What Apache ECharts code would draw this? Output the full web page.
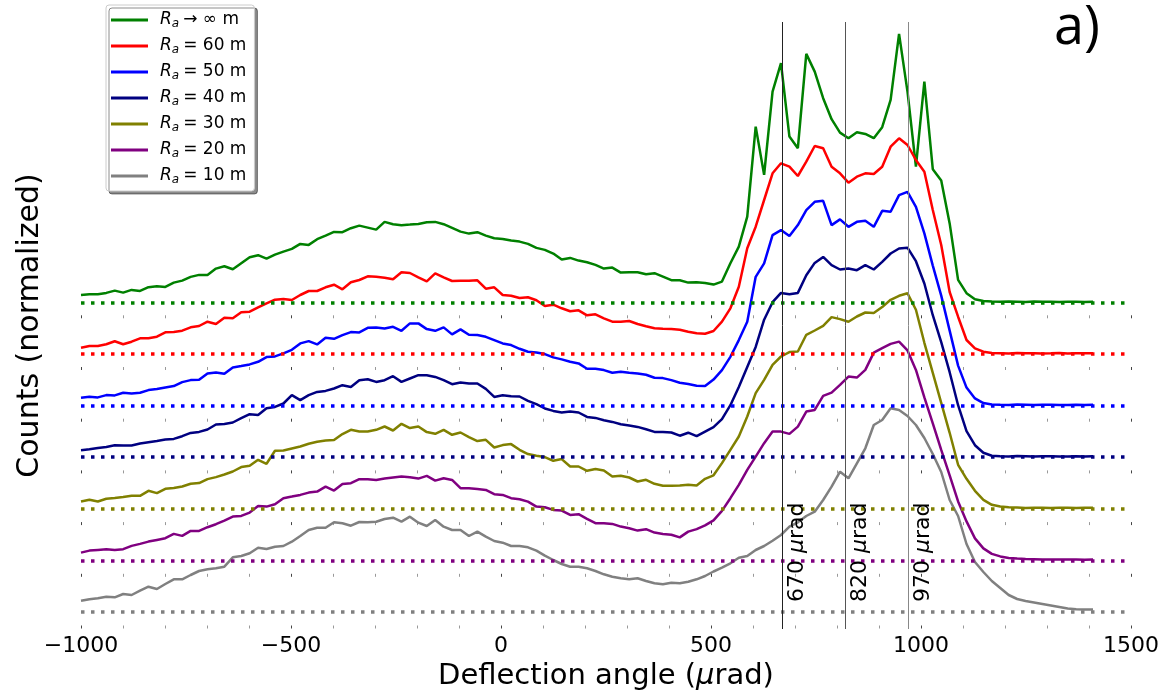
<!DOCTYPE html>
<html>
<head>
<meta charset="utf-8">
<script src="https://cdn.jsdelivr.net/npm/echarts@6/dist/echarts.min.js"></script>
<style>
html, body { margin: 0; padding: 0; background: #fff; }
#chart { width: 1169px; height: 698px; }
</style>
</head>
<body>
<div id="chart"></div>
<script>
// deflection angle bins (urad), 121 bins from -1000
const angleStart = -1000;
const angleStep = 20.08;

// legend names (R_a in m) and colours, top curve first
const radii = ['∞', '60', '50', '40', '30', '20', '10'];
const colors = ['#008000', '#ff0000', '#0000ff', '#000080', '#808000', '#800080', '#808080'];

// reference angles (urad)
const markers = [670, 820, 970];
const markerColors = ['#222222', '#555555', '#888888'];

// vertical shift between the stacked curves (same units as counts)
const OFFSET_STEP = 51.6;

// counts above each curve's own baseline
const countsInf = [
  7.5, 8.2, 8.2, 9.5, 11.8, 9.8, 12.5, 11.5, 15.2, 16.2, 15.5, 19.8, 21.8, 25.5, 27.5, 27.5, 33.8, 36.2, 33.2, 39.2,
  45.2, 47.2, 43.8, 47.8, 50.8, 53.5, 58.5, 57.5, 63.2, 66.8, 70.5, 70.2, 74.2, 76.8, 74.8, 72.8, 80.5, 78.2,
  77.2, 77.8, 78.5, 80.2, 80.5, 78.2, 74.5, 70.8, 68.8, 70.2, 66.8, 64.2, 63.5,
  61.8, 60.8, 58.5, 54.5, 52.5, 48.8, 42.8, 44.5, 41.8, 40.2, 37.5, 33.8, 34.8, 29.8, 30.2, 30.2, 28.2, 29.2, 25.8,
  22.2, 22.2, 19.8, 20.2, 19.5, 17.8,
  20.8, 39.2, 55.8, 85.8, 175.8, 127.5, 210.8, 239.2, 165.8, 154.2, 248.5, 230.8, 204.2, 183.2, 169.8, 164.2,
  170.2, 168.5, 164.2, 175.2, 202.5, 268.5, 210.8, 135.8, 220.8, 133.2, 121.8, 79, 22.5, 9.2, 3.2, 1.5, 0.8,
  0.6, 0.9, 0.7, 0.5, 0.8, 0.6, 0.7, 0.5, 0.6, 0.7, 0.5, 0.6
];
const counts60 = [
  6.3, 8, 8, 9.7, 12.7, 9.7, 12.3, 15.7, 15.7, 17.3, 21.7, 22, 23.3, 26.7, 28, 32.3, 30, 36.3, 35.7, 41.7,
  42.3, 46.7, 50.7, 54.3, 55, 54, 59, 63, 63, 66.7, 69.3, 64.7, 71.7, 74, 77.7, 77.3, 76.3, 74.7,
  81.7, 81, 76.7, 72.7, 80.7, 76.7, 73, 73.3, 73.3, 73.7, 65.3, 66.7, 59,
  58.3, 56, 56.7, 53.7, 48, 49.3, 45.7, 42.7, 43.7, 38.7, 39.7, 35.7, 32.3, 32.3, 33, 30, 27.7, 25.7, 25.3,
  25, 24.3, 22.3, 20.7, 20.3, 23,
  32.3, 45.7, 67.3, 105.7, 127.3, 154, 180.7, 190.7, 187.3, 178, 192.3, 208, 205.7, 187.3, 180.7, 171.3,
  177.3, 180.7, 180, 187.3, 207.3, 215.7, 209, 194, 182.3, 144, 109, 62, 37.3, 14, 5.7, 2.3, 1,
  0.8, 0.6, 0.9, 0.7, 0.8, 0.6, 0.7, 0.9, 0.6, 0.7, 0.8, 0.7
];
const counts50 = [
  7.8, 8.8, 8.2, 10.5, 10.2, 12.8, 12.2, 12.8, 15.5, 16.5, 18.2, 19.5, 23.5, 25.5, 25.8, 32.2, 33.2, 31.8, 38.2, 39.5,
  41.2, 43.8, 48.5, 49.2, 52.2, 55.8, 62.2, 64.5, 61.2, 67.8, 66.8, 70.5, 73.5, 73.2, 77.8, 78.2, 77.2, 78.8,
  74.8, 82.2, 82.2, 76.5, 74.8, 78.2, 71.2, 76.2, 70.8, 70.5, 68.8, 65.5, 62.2,
  60.5, 56.8, 53.8, 53.2, 51.5, 48.2, 46.2, 43.8, 42.2, 36.8, 36.8, 35.5, 32.8, 33.8, 32.8, 32.2, 30.8, 27.8, 27.5,
  25.5, 22.8, 21.5, 19.8, 19.5, 26,
  35.5, 48.8, 65.5, 83.8, 128.8, 142.2, 170.5, 175.5, 169.5, 180.5, 195.5, 203.8, 204.8, 180.5, 186.2, 178.8,
  183.8, 184.8, 178.8, 194.8, 193.8, 210.5, 213.8, 198.8, 172.2, 140, 110, 75, 40, 18, 7.2, 2.5, 1.2,
  0.9, 0.7, 1, 0.8, 0.6, 0.8, 0.9, 0.7, 0.6, 0.8, 0.7, 0.8
];
const counts40 = [
  7, 8, 9.3, 10.3, 12, 11.7, 11.7, 13.7, 15, 16.3, 17.7, 18.3, 21, 24.3, 25.3, 27.7, 32.7, 33.3, 34.7, 39,
  43, 42.3, 49, 50.3, 53.7, 62, 57, 62, 65.3, 66.3, 68.7, 72, 70.3, 77, 78, 75.3, 77, 81,
  75.3, 78.7, 82, 82, 80.3, 77, 73, 74.7, 73.7, 73.7, 68.3, 60.3, 62,
  61, 60.7, 56.3, 53, 48.7, 46.3, 44.7, 45.7, 44.7, 40.3, 39.3, 37, 35.3, 33, 31.7, 30.3, 28, 25.3, 25.3,
  24.7, 21.5, 24.5, 21, 25.5, 30,
  38, 52, 70.3, 90.3, 110.3, 137.5, 155, 164.3, 163, 164.3, 182, 194.3, 200.3, 192, 187.7, 188.7,
  187, 192, 187.7, 195.3, 203.7, 208.7, 209.5, 196, 173.7, 142, 115, 85, 52, 26, 12, 4.5, 1.5,
  1, 0.8, 1.1, 0.9, 0.7, 0.9, 1, 0.8, 0.7, 0.9, 0.8, 0.9
];
const counts30 = [
  7.3, 9, 7.3, 10, 10.7, 11.7, 13, 13, 18, 15.7, 20, 20.7, 22.3, 25, 25.7, 29.7, 31.7, 34.3, 37.3,
  41.7, 43, 49, 45, 58, 58.3, 60.3, 62.3, 65, 67, 68.3, 68.7, 74.7, 79, 77.3, 77.3, 79, 82.3, 78.3, 85, 80.7, 82.3,
  76.7, 75, 79, 74, 76.3, 71.7, 67.7, 69, 61.3, 63.7,
  64.7, 59, 54.7, 53, 51.7, 48, 49.7, 42.3, 42.3, 38, 39.7, 38.3, 32.3, 33, 31.3, 27.3, 29, 25, 23, 23,
  23.2, 24, 23.3, 30, 33.5,
  45.7, 59, 72.3, 92.3, 115.7, 129, 144, 152.3, 156.7, 157.3, 174, 178.3, 183, 191.7, 189.7, 187,
  192.3, 196.3, 195.7, 201.7, 209, 213, 215.5, 199, 166, 136, 106, 76, 44, 30, 18, 9, 4,
  2.3, 1.5, 1.2, 0.9, 1.1, 1, 0.8, 1, 1.1, 0.9, 1, 1.1
];
const counts20 = [
  7.8, 9.8, 10.5, 11.2, 10.5, 11.2, 14.5, 16.5, 18.8, 20.5, 22.2, 26.5, 24.5, 29.5, 29.5, 33.2, 36.2, 39.8, 43.8, 44.5,
  47.8, 54.5, 53.8, 56.2, 62.2, 63.8, 65.5, 67.8, 68.8, 73.8, 69.8, 76.5, 77.2, 81.2, 81.2, 80.5, 81.8,
  82.8, 83.8, 83.2, 81.8, 84.5, 79.8, 82.2, 80.5, 72.2, 72.2, 71.5, 70.5, 66.2, 65.5,
  62.2, 61.2, 58.8, 53.8, 53.2, 50.5, 49.8, 45.5, 46.2, 41.5, 37.2, 37.2, 36.5, 33.8, 32.2, 29.8, 31.2, 27.8, 26.5,
  25.6, 23, 28.8, 31.3, 35, 40,
  49.5, 62.2, 75.5, 90.5, 103.8, 117.2, 128.8, 128.8, 126.5, 133.8, 148.8, 150.5, 164.5, 167.8, 175.5, 183.8,
  182.8, 190.5, 207.8, 212.2, 216.5, 218.8, 210, 190.5, 163, 137, 110.5, 85, 59, 39, 22, 12, 6.5,
  4, 2.5, 1.8, 1.3, 1.1, 0.9, 1, 0.8, 0.9, 0.8, 0.7, 0.8
];
const counts10 = [
  11.3, 12.7, 13.7, 15.3, 14.7, 18, 17, 21.3, 25.3, 23, 28, 32.7, 32.7, 37, 41, 42.7, 43.7, 45.3, 54.7, 56,
  58.7, 64.3, 63, 65.3, 66, 70.3, 76, 82, 84.3, 84.3, 89.7, 88.7, 86.3, 90, 89.7, 90.3, 93,
  94.3, 90.3, 95.3, 89.3, 86, 92, 85.3, 82, 82, 76, 80.3, 75.3, 71, 69.3,
  66, 66, 64.7, 61.3, 56.3, 52, 48, 45.3, 45.3, 43.7, 41, 37.7, 35.3, 33.7, 32.7, 33.7, 31, 28.7, 27.7,
  29.3, 28.7, 30.3, 32.7, 36, 40.5,
  44.3, 48.7, 54.3, 56, 62, 66, 71.3, 77, 85.3, 89.7, 96, 100.3, 112, 125.3, 140.3, 133.7,
  148.7, 163.7, 187, 192, 203.7, 202, 196, 187, 174, 158, 140, 112, 96, 68, 50, 40, 31,
  24, 17, 13, 11, 9.5, 8, 6.5, 5, 3.5, 2.7, 2.5, 2.6
];

const curves = [countsInf, counts60, counts50, counts40, counts30, counts20, counts10];

const FONT = 'DejaVu Sans';
const chart = echarts.init(document.getElementById('chart'));

// small grid dots: 7 rows, 51.7px apart, only in the lower part of the axes
const gridDash = [0, 293.3, 3, 48.7, 3, 48.7, 3, 48.7, 3, 48.7, 3, 48.7, 3, 48.7, 3, 100];

const series = curves.map((vals, i) => {
  const offset = (curves.length - 1 - i) * OFFSET_STEP;
  return {
    name: radii[i],
    type: 'line',
    symbol: 'none',
    showSymbol: false,
    animation: false,
    z: 3,
    data: vals.map((v, k) => [angleStart + k * angleStep, v + offset]),
    lineStyle: { color: colors[i], width: 2.5 },
    itemStyle: { color: colors[i] },
    emphasis: { disabled: true },
    markLine: {
      silent: true,
      symbol: 'none',
      animation: false,
      label: { show: false },
      emphasis: { disabled: true },
      lineStyle: { color: colors[i], width: 3.5, type: [3.5, 6.5], cap: 'butt' },
      data: [{ yAxis: offset }]
    }
  };
});

series.push({
  type: 'line',
  data: [],
  silent: true,
  markLine: {
    silent: true,
    symbol: 'none',
    animation: false,
    emphasis: { disabled: true },
    label: {
      show: true,
      position: 'insideStartBottom',
      distance: [27, 4],
      fontFamily: FONT,
      fontSize: 22,
      color: '#000',
      rich: { mu: { fontFamily: FONT, fontSize: 22, fontStyle: 'italic', color: '#000' } }
    },
    data: markers.map((m, j) => ({
      xAxis: m,
      lineStyle: { color: markerColors[j], width: 1, type: 'solid' },
      label: { formatter: m + ' {mu|μ}rad' }
    }))
  }
});

const option = {
  backgroundColor: '#fff',
  animation: false,
  grid: { left: 81, right: 38, top: 22, bottom: 69 },
  legend: {
    data: radii,
    orient: 'vertical',
    left: 106,
    top: 5,
    icon: 'rect',
    itemWidth: 37,
    itemHeight: 3,
    itemGap: 6,
    padding: [5, 8, 5, 5],
    backgroundColor: '#fff',
    borderColor: '#cccccc',
    borderWidth: 1,
    borderRadius: 3,
    shadowColor: 'rgba(0,0,0,0.45)',
    shadowOffsetX: 3,
    shadowOffsetY: 3,
    shadowBlur: 0,
    selectedMode: false,
    formatter: name => name === '∞'
      ? '{r|R}{s|a}{t|→ ∞ m}'
      : '{r|R}{s|a}{t|= ' + name + ' m}',
    textStyle: {
      fontFamily: FONT,
      fontSize: 17,
      color: '#000',
      lineHeight: 20,
      rich: {
        r: { fontFamily: FONT, fontSize: 17, fontStyle: 'italic', padding: [0, 0, 0, 7] },
        s: { fontFamily: FONT, fontSize: 12, fontStyle: 'italic', padding: [8, 0, 0, 0] },
        t: { fontFamily: FONT, fontSize: 17, padding: [0, 0, 0, 4] }
      }
    }
  },
  xAxis: {
    type: 'value',
    min: -1000,
    max: 1500,
    interval: 500,
    name: 'Deflection angle ({mu|μ}rad)',
    nameLocation: 'middle',
    nameGap: 33,
    nameTextStyle: {
      fontFamily: FONT, fontSize: 29, color: '#000',
      rich: { mu: { fontFamily: FONT, fontSize: 29, fontStyle: 'italic', color: '#000' } }
    },
    axisLine: { show: false },
    axisTick: { show: false },
    axisLabel: {
      fontFamily: FONT, fontSize: 22, color: '#000', margin: 6,
      formatter: v => (v < 0 ? '\u2212' + Math.abs(v) : String(v))
    },
    splitLine: { show: true, lineStyle: { color: '#444', width: 1, type: gridDash } },
    minorTick: { show: false, splitNumber: 5 },
    minorSplitLine: { show: true, lineStyle: { color: '#999', width: 1, type: gridDash } }
  },
  yAxis: {
    type: 'value',
    min: -17,
    max: 590,
    name: 'Counts (normalized)',
    nameLocation: 'middle',
    nameGap: 36,
    nameRotate: 90,
    nameTextStyle: { fontFamily: FONT, fontSize: 30, color: '#000' },
    axisLine: { show: false },
    axisTick: { show: false },
    axisLabel: { show: false },
    splitLine: { show: false }
  },
  graphic: [{
    type: 'text',
    left: 1054,
    top: 2,
    style: { text: 'a)', font: '54px "Open Sans"', fill: '#000' }
  }],
  series: series
};

chart.setOption(option);
</script>
</body>
</html>
